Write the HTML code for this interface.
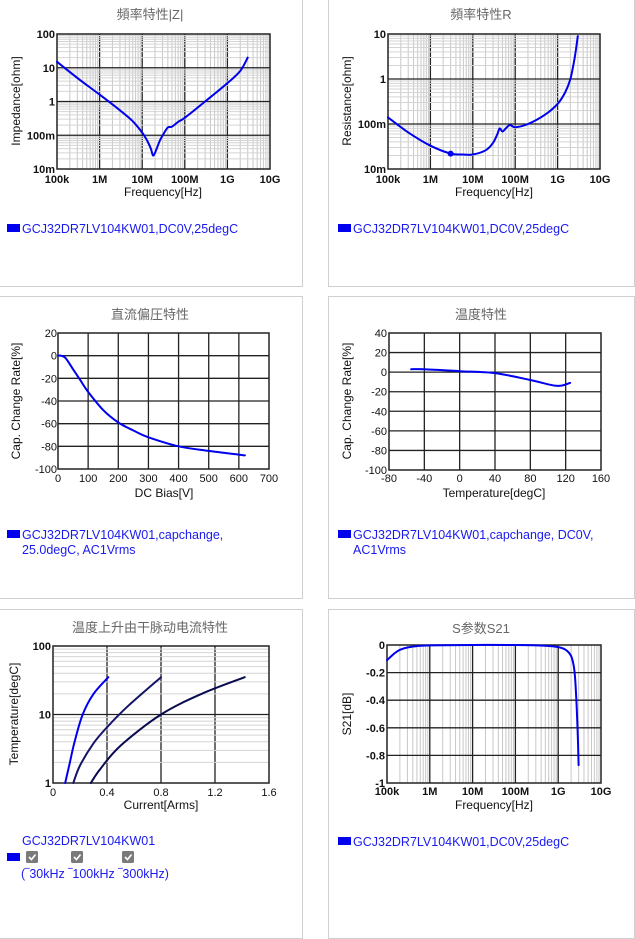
<!DOCTYPE html>
<html><head><meta charset="utf-8">
<style>
html,body{margin:0;padding:0;background:#fff;width:635px;height:927px;overflow:hidden;}
.panel{position:absolute;border:1px solid #d0d0d0;background:#fff;box-sizing:border-box;}
svg{position:absolute;left:0;top:0;}
text{font-family:"Liberation Sans","Noto Sans CJK SC",sans-serif;}
</style></head>
<body>
<div class="panel" style="left:-1px;top:-1px;width:304px;height:288px;"></div>
<div class="panel" style="left:328px;top:-1px;width:307px;height:288px;"></div>
<div class="panel" style="left:-1px;top:296px;width:304px;height:303px;"></div>
<div class="panel" style="left:328px;top:296px;width:307px;height:303px;"></div>
<div class="panel" style="left:-1px;top:609px;width:304px;height:330px;"></div>
<div class="panel" style="left:328px;top:609px;width:307px;height:330px;"></div>
<svg id="s" width="635" height="927"></svg>
<script>
// ---- data ----
const zFreq = [1e5,3e5,1e6,3e6,6e6,1e7,1.3e7,1.6e7,1.8e7,2.1e7,2.6e7,3.3e7,4e7,5e7,7e7,1e8,3e8,1e9,2e9,3e9];
const zVal  = [15,5,1.6,0.55,0.26,0.12,0.07,0.04,0.025,0.035,0.07,0.12,0.17,0.18,0.25,0.33,1.0,3.5,8,20];
const rFreq = [1e5,3e5,1e6,3e6,6e6,1e7,2e7,3e7,3.8e7,4.3e7,5e7,6e7,7.5e7,1e8,2e8,5e8,1e9,1.5e9,2e9,2.5e9,3e9];
const rVal  = [0.14,0.065,0.033,0.022,0.021,0.021,0.026,0.038,0.06,0.08,0.068,0.08,0.095,0.085,0.1,0.16,0.28,0.5,1.0,2.8,9];
const dcV   = [0,10,25,50,75,100,150,200,250,300,400,500,620];
const dcVal = [0,0,-2,-12,-22,-32,-48,-59,-66,-72,-80,-84,-88];
const tC    = [-55,-40,0,40,80,110,125];
const tVal  = [3,3,1,-1,-8,-14,-11];
const i30   = [0.09,0.12,0.16,0.22,0.3,0.41];
const t30   = [1,1.8,4,10,20,35];
const i100  = [0.15,0.2,0.3,0.4,0.55,0.8];
const t100  = [1,1.8,3.8,6.5,13,35];
const i300  = [0.28,0.35,0.5,0.8,1.1,1.42];
const t300  = [1,1.6,3.5,10,20,35];
const sFreq = [1e5,1.5e5,2e5,3e5,5e5,1e6,1e7,1e8,5e8,1e9,1.5e9,2e9,2.3e9,2.5e9,2.7e9,2.9e9,3e9];
const sVal  = [-0.11,-0.06,-0.035,-0.018,-0.008,-0.003,0,0,-0.005,-0.015,-0.035,-0.08,-0.15,-0.25,-0.45,-0.7,-0.87];
const freqTicks = ['100k','1M','10M','100M','1G','10G'];
const zTicks = ['100','10','1','100m','10m'];
const rTicks = ['10','1','100m','10m'];
const dcXTicks = ['0','100','200','300','400','500','600','700'];
const pctTicks1 = ['20','0','-20','-40','-60','-80','-100'];
const tXTicks = ['-80','-40','0','40','80','120','160'];
const pctTicks2 = ['40','20','0','-20','-40','-60','-80','-100'];
const iTicks = ['0','0.4','0.8','1.2','1.6'];
const tRiseTicks = ['100','10','1'];
const sTicks = ['0','-0.2','-0.4','-0.6','-0.8','-1'];

const S = document.getElementById('s');
const NS = 'http://www.w3.org/2000/svg';
function el(tag, attrs, txt){const e=document.createElementNS(NS,tag);for(const k in attrs)e.setAttribute(k,attrs[k]);if(txt!==undefined)e.textContent=txt;S.appendChild(e);return e;}
function line(x1,y1,x2,y2,c,w){const e=el('line',{x1,y1,x2,y2,stroke:c,'stroke-width':w});return e;}
function linAxis(v0,v1,p0,p1){return v=>p0+(v-v0)/(v1-v0)*(p1-p0);}
function logAxis(v0,v1,p0,p1){return v=>p0+(Math.log10(v)-Math.log10(v0))/(Math.log10(v1)-Math.log10(v0))*(p1-p0);}
function txt(x,y,s,o){const e=el('text',Object.assign({x,y,'font-size':11,'fill':'#111'},o||{}),s);return e;}

function frame(x0,y0,x1,y1){const r=el('rect',{x:x0,y:y0,width:x1-x0,height:y1-y0,fill:'none',stroke:'#222','stroke-width':1.5});}
function logGridX(x0,x1,y0,y1,dec){const w=(x1-x0)/dec;for(let d=0;d<dec;d++){for(let m=2;m<10;m++){const x=x0+w*(d+Math.log10(m));line(x,y0,x,y1,'#c8c8c8',1);}if(d>0)line(x0+w*d,y0,x0+w*d,y1,'#222',1.3);}}
function logGridY(x0,x1,y0,y1,dec){const h=(y1-y0)/dec;for(let d=0;d<dec;d++){for(let m=2;m<10;m++){const y=y1-h*(d+Math.log10(m));line(x0,y,x1,y,'#d4d4d4',1);}if(d>0)line(x0,y1-h*d,x1,y1-h*d,'#222',1.3);}}
function linGridX(x0,x1,y0,y1,n){for(let i=1;i<n;i++){const x=x0+(x1-x0)*i/n;line(x,y0,x,y1,'#222',1.3);}}
function linGridY(x0,x1,y0,y1,n){for(let i=1;i<n;i++){const y=y0+(y1-y0)*i/n;line(x0,y,x1,y,'#222',1.3);}}
function series(xs,ys,fx,fy,color,name){
  const P=xs.map((x,i)=>[fx(x),fy(ys[i])]);
  let d='M'+P[0][0].toFixed(1)+','+P[0][1].toFixed(1);
  for(let i=0;i<P.length-1;i++){const p0=P[Math.max(0,i-1)],p1=P[i],p2=P[i+1],p3=P[Math.min(P.length-1,i+2)];
    const c1=[p1[0]+(p2[0]-p0[0])/6,p1[1]+(p2[1]-p0[1])/6],c2=[p2[0]-(p3[0]-p1[0])/6,p2[1]-(p3[1]-p1[1])/6];
    d+='C'+c1[0].toFixed(1)+','+c1[1].toFixed(1)+' '+c2[0].toFixed(1)+','+c2[1].toFixed(1)+' '+p2[0].toFixed(1)+','+p2[1].toFixed(1);}
  const p=el('path',{d,fill:'none',stroke:color,'stroke-width':2,'stroke-linejoin':'round','stroke-linecap':'round'});return p;}
function xLabels(arr,x0,x1,y,bold){arr.forEach((s,i)=>{const t=txt(x0+(x1-x0)*i/(arr.length-1),y,s,{'text-anchor':'middle','font-weight':bold?'bold':'normal'});});}
function yLabels(arr,y0,y1,x,bold){arr.forEach((s,i)=>{const t=txt(x,y0+(y1-y0)*i/(arr.length-1)+4,s,{'text-anchor':'end','font-weight':bold?'bold':'normal'});});}
function title(x,y,s){const t=txt(x,y,s,{'text-anchor':'middle','font-size':13,'fill':'#666'});}
function xTitle(x,y,s){const t=txt(x,y,s,{'text-anchor':'middle','font-size':12});}
function yTitle(x,y,s){const t=txt(0,0,s,{'text-anchor':'middle','font-size':12,transform:`translate(${x},${y}) rotate(-90)`});}
function legend(x,y,lines){const r=el('rect',{x:x,y:y-8,width:13,height:8,fill:'#0000ee'});lines.forEach((s,i)=>{const t=txt(x+15,y+1+i*15,s,{'font-size':12.5,fill:'#1a1aee'});});}

// Panel 1 impedance
{const x0=57,x1=270,y0=34,y1=169;logGridX(x0,x1,y0,y1,5);logGridY(x0,x1,y0,y1,4);frame(x0,y0,x1,y1);
series(zFreq,zVal,logAxis(1e5,1e10,x0,x1),logAxis(0.01,100,y1,y0),'#0000ee','impedance-line');
xLabels(freqTicks,x0,x1,y1+14,true);yLabels(zTicks,y0,y1,x0-2,true);
title(150,19,'頻率特性|Z|');xTitle(163,196,'Frequency[Hz]');yTitle(20,101,'Impedance[ohm]');legend(7,232,['GCJ32DR7LV104KW01,DC0V,25degC']);}
// Panel 2 resistance
{const x0=388,x1=600,y0=34,y1=169;logGridX(x0,x1,y0,y1,5);logGridY(x0,x1,y0,y1,3);frame(x0,y0,x1,y1);
const fx=logAxis(1e5,1e10,x0,x1),fy=logAxis(0.01,10,y1,y0);
series(rFreq,rVal,fx,fy,'#0000ee','resistance-line');
const c=el('circle',{cx:fx(3e6),cy:fy(0.022),r:3,fill:'#0000ee'});
xLabels(freqTicks,x0,x1,y1+14,true);yLabels(rTicks,y0,y1,x0-2,true);
title(481,19,'頻率特性R');xTitle(494,196,'Frequency[Hz]');yTitle(351,101,'Resistance[ohm]');legend(338,232,['GCJ32DR7LV104KW01,DC0V,25degC']);}
// Panel 3 DC bias
{const x0=58,x1=269,y0=333,y1=469;linGridX(x0,x1,y0,y1,7);linGridY(x0,x1,y0,y1,6);frame(x0,y0,x1,y1);
series(dcV,dcVal,linAxis(0,700,x0,x1),linAxis(20,-100,y0,y1),'#0000ee','dc-bias-line');
xLabels(dcXTicks,x0,x1,y1+13,false);yLabels(pctTicks1,y0,y1,x0-1,false);
title(150,319,'直流偏圧特性');xTitle(164,497,'DC Bias[V]');yTitle(20,401,'Cap. Change Rate[%]');legend(7,538,['GCJ32DR7LV104KW01,capchange,','25.0degC, AC1Vrms']);}
// Panel 4 temperature
{const x0=389,x1=601,y0=333,y1=470;linGridX(x0,x1,y0,y1,6);linGridY(x0,x1,y0,y1,7);frame(x0,y0,x1,y1);
series(tC,tVal,linAxis(-80,160,x0,x1),linAxis(40,-100,y0,y1),'#0000ee','temperature-line');
xLabels(tXTicks,x0,x1,y1+12,false);yLabels(pctTicks2,y0,y1,x0-2,false);
title(481,319,'温度特性');xTitle(494,497,'Temperature[degC]');yTitle(351,401,'Cap. Change Rate[%]');legend(338,538,['GCJ32DR7LV104KW01,capchange, DC0V,','AC1Vrms']);}
// Panel 5 temp rise
{const x0=53,x1=269,y0=646,y1=783;linGridX(x0,x1,y0,y1,4);logGridY(x0,x1,y0,y1,2);frame(x0,y0,x1,y1);
const fx=linAxis(0,1.6,x0,x1),fy=logAxis(1,100,y1,y0);
series(i30,t30,fx,fy,'#0000ee','line-30khz');series(i100,t100,fx,fy,'#141466','line-100khz');series(i300,t300,fx,fy,'#0a0a50','line-300khz');
xLabels(iTicks,x0,x1,y1+13,false);yLabels(tRiseTicks,y0,y1,x0-2,true);
title(150,632,'温度上升由干脉动电流特性');xTitle(161,809,'Current[Arms]');yTitle(18,714,'Temperature[degC]');
const t=txt(22,845,'GCJ32DR7LV104KW01',{'font-size':12.5,fill:'#1a1aee'});
const r=el('rect',{x:7,y:853,width:13,height:8,fill:'#0000ee'});
[26,71,122].forEach((x,i)=>{const b=el('rect',{x,y:851,width:12,height:12,rx:1.5,fill:'#7a7a7a'});
const m=el('path',{d:`M${x+3},${857}l2.5,2.5l4,-5`,stroke:'#fff','stroke-width':1.6,fill:'none'});});
const t2=txt(21,878,'(‾30kHz ‾100kHz ‾300kHz)',{'font-size':12.5,fill:'#1a1aee'});}
// Panel 6 S21
{const x0=387,x1=601,y0=645,y1=783;logGridX(x0,x1,y0,y1,5);linGridY(x0,x1,y0,y1,5);frame(x0,y0,x1,y1);
series(sFreq,sVal,logAxis(1e5,1e10,x0,x1),linAxis(0,-1,y0,y1),'#0000ee','s21-line');
xLabels(freqTicks,x0,x1,y1+12,true);yLabels(sTicks,y0,y1,x0-2,true);
title(481,633,'S参数S21');xTitle(494,809,'Frequency[Hz]');yTitle(351,714,'S21[dB]');legend(338,845,['GCJ32DR7LV104KW01,DC0V,25degC']);}
</script>
</body></html>
